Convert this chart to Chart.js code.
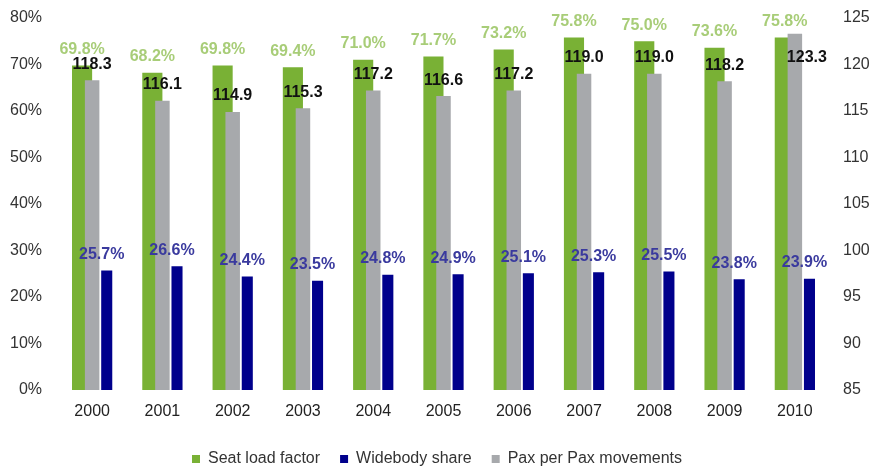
<!DOCTYPE html>
<html>
<head>
<meta charset="utf-8">
<script src="https://cdn.jsdelivr.net/npm/chart.js@4.4.1/dist/chart.umd.min.js"></script>
<style>
  html, body { margin: 0; padding: 0; background: #fff; }
  #wrap { width: 874px; height: 469px; }
</style>
</head>
<body>
<div id="wrap"><canvas id="paxchart"></canvas></div>
<script>
const years = ['2000', '2001', '2002', '2003', '2004', '2005', '2006', '2007', '2008', '2009', '2010'];
const seatLoad = [69.8, 68.2, 69.8, 69.4, 71.0, 71.7, 73.2, 75.8, 75.0, 73.6, 75.8];
const widebody = [25.7, 26.6, 24.4, 23.5, 24.8, 24.9, 25.1, 25.3, 25.5, 23.8, 23.9];
const paxPerMov = [118.3, 116.1, 114.9, 115.3, 117.2, 116.6, 117.2, 119.0, 119.0, 118.2, 123.3];

const FONT = 'Arial, "Liberation Sans", sans-serif';

// value labels above each bar, read from the bar elements
const barLabels = {
  id: 'barLabels',
  afterDatasetsDraw(chart) {
    const ctx = chart.ctx;
    const green = chart.getDatasetMeta(0).data;
    ctx.save();
    ctx.font = 'bold 16px ' + FONT;
    ctx.textAlign = 'center';
    ctx.textBaseline = 'middle';
    chart.data.datasets.forEach((ds, i) => {
      const meta = chart.getDatasetMeta(i);
      meta.data.forEach((bar, j) => {
        const v = ds.data[j];
        const txt = ds.isPct ? v.toFixed(1) + '%' : v.toFixed(1);
        let x = bar.x + (ds.labelShift || 0);
        let y = bar.y - 16;
        // grey bar taller than the green one: tuck its label inside, to the right
        if (!ds.isPct && bar.y < green[j].y) {
          x = bar.x + 12;
          y = bar.y + 24;
        }
        ctx.fillStyle = ds.labelColor;
        ctx.fillText(txt, x, y);
      });
    });
    ctx.restore();
  }
};

function fixSide(width) {
  return s => {
    s.width = width;
    s.paddingTop = 0;
    s.paddingBottom = 0;
  };
}

const ctx = document.getElementById('paxchart');

new Chart(ctx, {
  type: 'bar',
  data: {
    labels: years,
    datasets: [{
      label: 'Seat load factor',
      data: seatLoad,
      yAxisID: 'y',
      backgroundColor: '#79b135',
      labelColor: '#a8cd78',
      isPct: true,
      order: 1,
      categoryPercentage: 0.573,
      barPercentage: 1.0
    }, {
      label: 'Widebody share',
      data: widebody,
      yAxisID: 'y',
      backgroundColor: '#00008c',
      labelColor: '#3a3a9e',
      isPct: true,
      labelShift: -5,
      order: 2,
      categoryPercentage: 0.831,
      barPercentage: 0.379
    }, {
      label: 'Pax per Pax movements',
      data: paxPerMov,
      yAxisID: 'y2',
      backgroundColor: '#a7a9ac',
      labelColor: '#111111',
      isPct: false,
      order: 0,
      grouped: false,
      barPercentage: 0.258
    }]
  },
  options: {
    responsive: true,
    maintainAspectRatio: false,
    animation: false,
    layout: { padding: { top: 18, bottom: -8, left: 0, right: 0 } },
    scales: {
      x: {
        grid: { display: false },
        border: { display: false },
        ticks: { color: '#222', font: { family: FONT, size: 16 }, padding: 4 },
        afterFit(s) { s.height = 41; }
      },
      y: {
        position: 'left',
        min: 0,
        max: 80,
        grid: { display: false },
        border: { display: false },
        ticks: {
          stepSize: 10,
          color: '#333',
          padding: 7,
          font: { family: FONT, size: 16 },
          callback: v => v + '%'
        },
        afterFit: fixSide(57)
      },
      y2: {
        position: 'right',
        min: 85,
        max: 125,
        grid: { display: false },
        border: { display: false },
        ticks: {
          stepSize: 5,
          color: '#333',
          padding: 5,
          font: { family: FONT, size: 16 }
        },
        afterFit: fixSide(44)
      }
    },
    plugins: {
      legend: {
        position: 'bottom',
        labels: {
          boxWidth: 8,
          boxHeight: 8,
          padding: 20,
          color: '#333',
          font: { family: FONT, size: 16 },
          sort: (a, b) => a.datasetIndex - b.datasetIndex
        }
      },
      tooltip: { enabled: false }
    }
  },
  plugins: [barLabels]
});
</script>
</body>
</html>
